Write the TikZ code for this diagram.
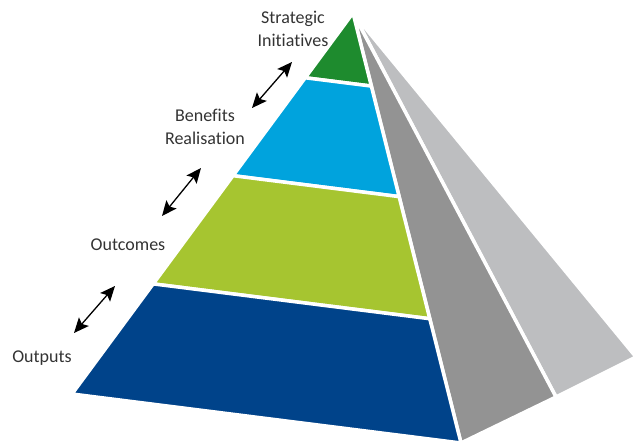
\documentclass[tikz,border=0pt]{standalone}
\usepackage{fontspec}
\setsansfont{Carlito}[Ligatures=NoCommon]
\usepackage{xcolor}
\usetikzlibrary{calc}
\usetikzlibrary{arrows.meta}

\definecolor{stratgreen}{HTML}{1E8B2E}
\definecolor{benefitblue}{HTML}{00A3DD}
\definecolor{outcomegreen}{HTML}{A6C530}
\definecolor{outputblue}{HTML}{00438A}
\definecolor{sidedark}{HTML}{939393}
\definecolor{sidelight}{HTML}{BDBEC0}
\definecolor{textgray}{HTML}{333333}

\begin{document}
\begin{tikzpicture}[x=1pt,y=-1pt]%%pyramid

                \tikzstyle{face}  = [draw=white, line width=3.5pt, line join=round]
                \tikzstyle{levellabel} = [font=\sffamily\fontsize{18}{23}\selectfont, text=textgray, align=center, inner sep=0pt]
                \tikzstyle{link}  = [{Stealth[length=15pt,width=13pt,inset=3pt]}-{Stealth[length=15pt,width=13pt,inset=3pt]}, line width=1.3pt]

                \useasboundingbox (0,0) rectangle (633,443);

                \coordinate (apex) at (353,13);
                \coordinate (bl) at (72,394);
                \coordinate (br) at (461,443);
                \coordinate (bs) at (556,397);
                \coordinate (bf) at (636,357);

                \path[face, fill=sidelight] (apex)--(bs)--(bf)--cycle;
                \path[face, fill=sidedark] (apex)--(br)--(bs)--cycle;

                \foreach \f [count=\i] in {0.17,0.427,0.711}{
                        \coordinate (l\i) at ($(apex)!\f!(bl)$);
                        \coordinate (r\i) at ($(apex)!\f!(br)$);
                }
                \path[face, fill=stratgreen] (apex)--(r1)--(l1)--cycle;
                \path[face, fill=benefitblue] (l1)--(r1)--(r2)--(l2)--cycle;
                \path[face, fill=outcomegreen] (l2)--(r2)--(r3)--(l3)--cycle;
                \path[face, fill=outputblue] (l3)--(r3)--(br)--(bl)--cycle;

                \node [levellabel](strat) at (293,29) {Strategic\\Initiatives};
                \node [levellabel](benef) at (205,127) {Benefits\\Realisation};
                \node [levellabel](outc) at (128,245) {Outcomes};
                \node [levellabel](outp) at (42,358) {Outputs};

                \coordinate (s1) at (252,108);
                \coordinate (e1) at (292,62);
                \coordinate (s2) at (162,216);
                \coordinate (e2) at (201,168);
                \coordinate (s3) at (74,333);
                \coordinate (e3) at (115,286);
                \foreach \i in {1,...,3}{
                        \draw [link] (s\i)--(e\i);
                }
\end{tikzpicture}
\end{document}
